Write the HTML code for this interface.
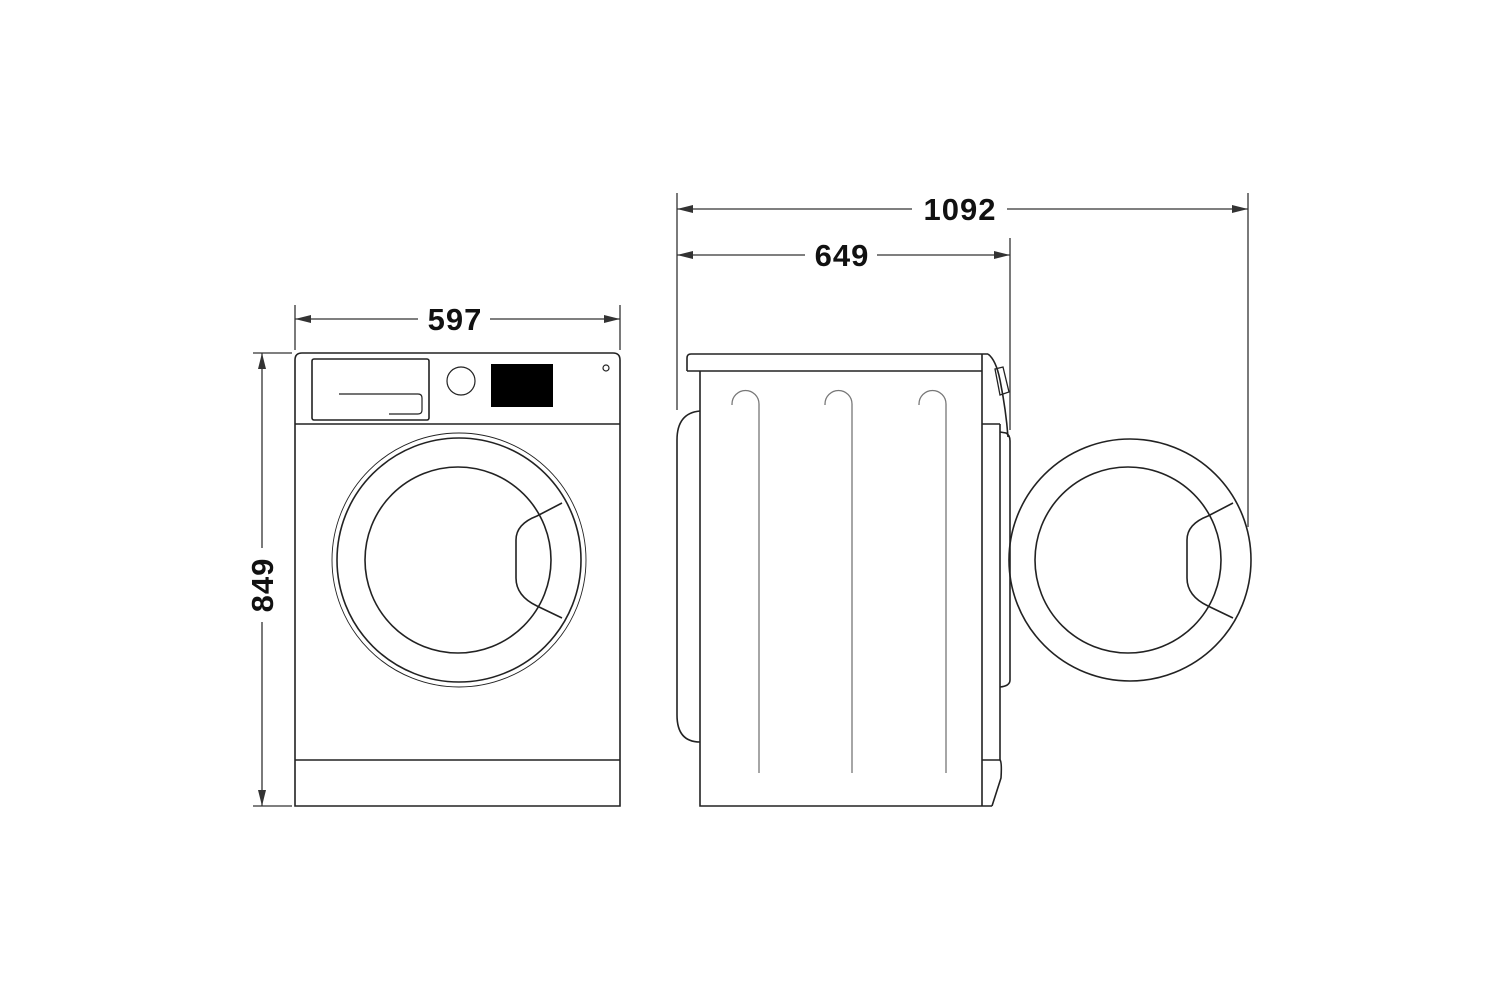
<!DOCTYPE html>
<html><head><meta charset="utf-8"><style>
html,body{margin:0;padding:0;background:#fff}
svg{display:block}
text{font-family:"Liberation Sans",sans-serif;font-weight:bold;font-size:31px;fill:#111}
</style></head><body>
<svg width="1500" height="1000" viewBox="0 0 1500 1000" xmlns="http://www.w3.org/2000/svg">
<defs>
<marker id="a" viewBox="0 0 16 8" refX="16" refY="4" markerWidth="16" markerHeight="8" markerUnits="userSpaceOnUse" orient="auto-start-reverse"><path d="M0,0 L16,4 L0,8 Z" fill="#333"/></marker>
</defs>
<g stroke="#333" stroke-width="1.3" fill="none">
<line x1="677" y1="193" x2="677" y2="410"/>
<line x1="1248" y1="193" x2="1248" y2="527"/>
<line x1="677" y1="209" x2="912" y2="209" marker-start="url(#a)"/>
<line x1="1007" y1="209" x2="1248" y2="209" marker-end="url(#a)"/>
<line x1="1010" y1="238" x2="1010" y2="430"/>
<line x1="677" y1="255" x2="805" y2="255" marker-start="url(#a)"/>
<line x1="877" y1="255" x2="1010" y2="255" marker-end="url(#a)"/>
<line x1="295" y1="305" x2="295" y2="350"/>
<line x1="620" y1="305" x2="620" y2="350"/>
<line x1="295" y1="319" x2="418" y2="319" marker-start="url(#a)"/>
<line x1="490" y1="319" x2="620" y2="319" marker-end="url(#a)"/>
<line x1="253" y1="353" x2="292" y2="353"/>
<line x1="253" y1="806" x2="292" y2="806"/>
<line x1="262" y1="353" x2="262" y2="548" marker-start="url(#a)"/>
<line x1="262" y1="622" x2="262" y2="806" marker-end="url(#a)"/>
</g>
<text x="960" y="220" text-anchor="middle" letter-spacing="1">1092</text>
<text x="842" y="266" text-anchor="middle" letter-spacing="1">649</text>
<text x="455" y="330" text-anchor="middle" letter-spacing="1">597</text>
<text transform="translate(273,585) rotate(-90)" text-anchor="middle" letter-spacing="1">849</text>

<g stroke="#222" stroke-width="1.6" fill="none">
<path d="M295,806 L295,360 Q295,353 302,353 L613,353 Q620,353 620,360 L620,806 Z"/>
<line x1="295" y1="424" x2="620" y2="424"/>
<line x1="295" y1="760" x2="620" y2="760"/>
<rect x="312" y="359" width="117" height="61" rx="2"/>
<path d="M339,394 L418,394 Q422,394 422,398 L422,410 Q422,414 418,414 L389,414" stroke-width="1.2"/>
<circle cx="461" cy="381" r="14" stroke-width="1.2"/>
<rect x="491" y="364" width="62" height="43" fill="#000" stroke="none"/>
<circle cx="606" cy="368" r="3" stroke-width="1.2"/>
<circle cx="459" cy="560" r="127" stroke-width="0.9"/>
<circle cx="459" cy="560" r="122"/>
<circle cx="458" cy="560" r="93"/>
<path d="M562,503 L537,516 Q516,524 516,540 L516,578 Q516,596 537,606 L562,618"/>

<path d="M687,371 L687,358 Q687,354 691,354 L988,354"/>
<line x1="687" y1="371" x2="982" y2="371"/>
<path d="M700,371 L700,806 L992,806"/>
<line x1="982" y1="354" x2="982" y2="806"/>
<path d="M988,354 Q996,360 1000,380 Q1006,410 1008,437"/>
<path d="M995,369 L1003,367 L1009,392 L1000,395 Z" stroke-width="1.3"/>
<line x1="982" y1="424" x2="1000" y2="424"/>
<line x1="1000" y1="424" x2="1000" y2="760"/>
<line x1="982" y1="760" x2="1000" y2="760"/>
<path d="M1000,760 Q1002,762 1001,778 L992,806"/>
<path d="M1000,432 L1006,433 Q1010,435 1010,441 L1010,680 Q1010,686 1000,687"/>
<path d="M700,411 Q677,413 677,440 L677,715 Q677,742 700,742"/>
<circle cx="1130" cy="560" r="121"/>
<circle cx="1128" cy="560" r="93"/>
<path d="M1233,503 L1208,516 Q1187,524 1187,540 L1187,578 Q1187,596 1208,606 L1233,618"/>
</g>
<g stroke="#777" stroke-width="1.3" fill="none">
<path d="M732,405 L732,404 A13.5,13.5 0 0 1 759,404 L759,773"/>
<path d="M825,405 L825,404 A13.5,13.5 0 0 1 852,404 L852,773"/>
<path d="M919,405 L919,404 A13.5,13.5 0 0 1 946,404 L946,773"/>
</g>
</svg>
</body></html>
